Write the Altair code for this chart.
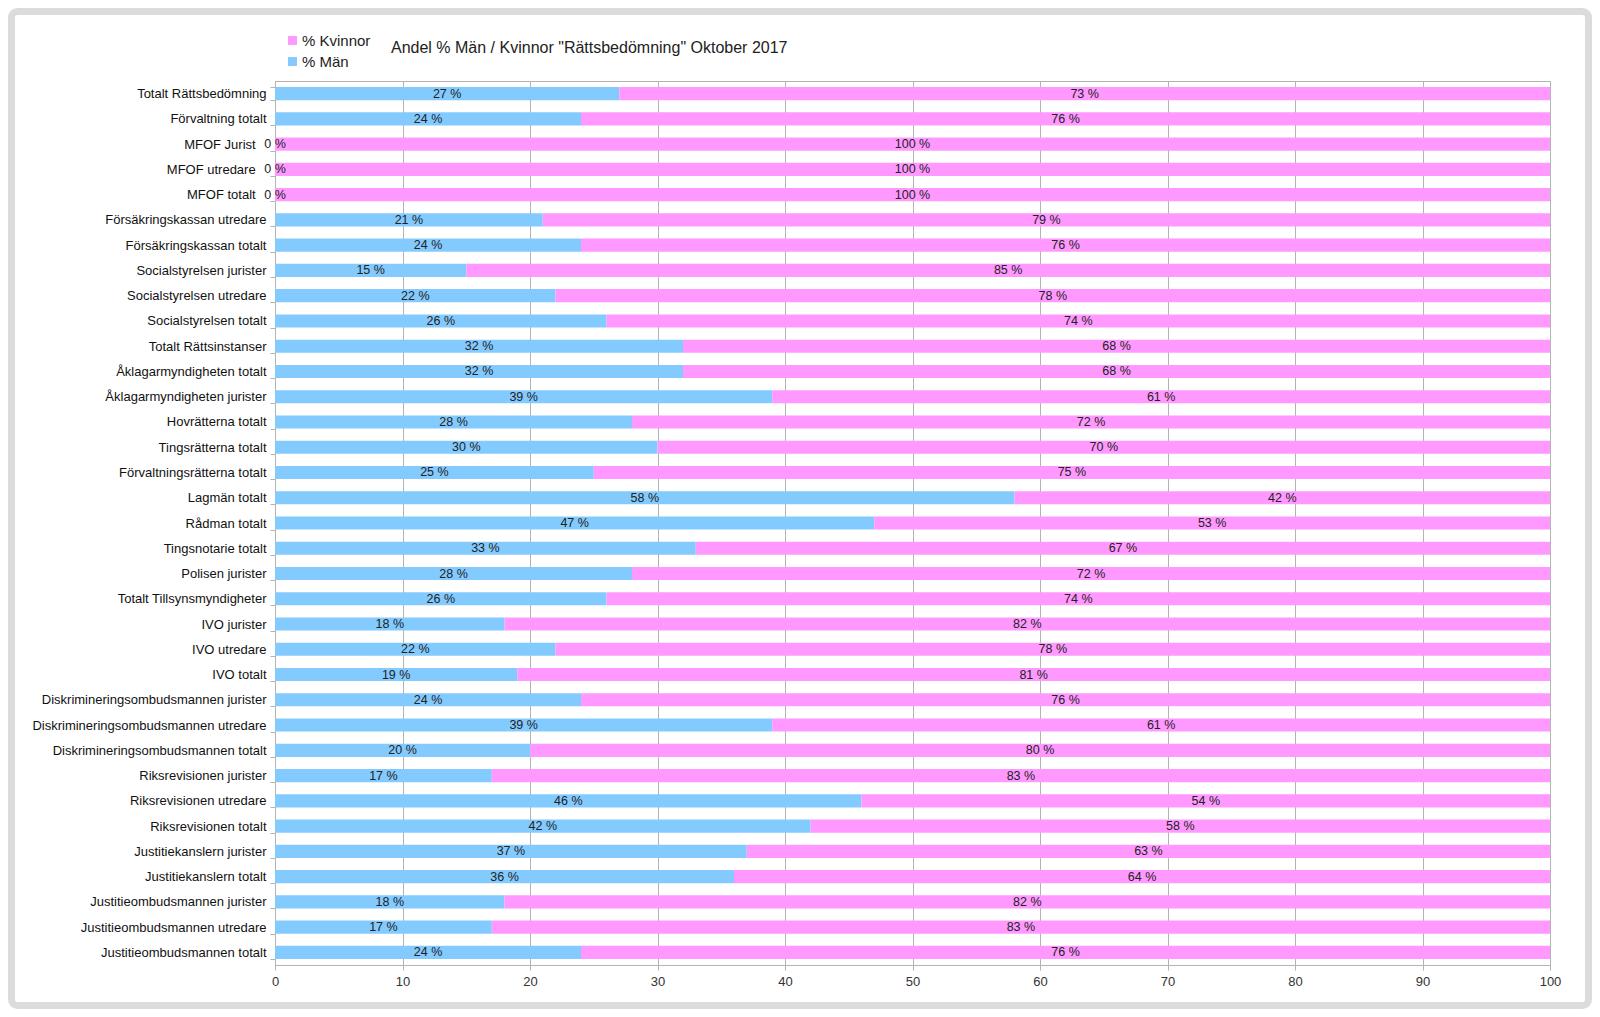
import altair as alt
import pandas as pd

categories = [
    "Totalt Rättsbedömning", "Förvaltning totalt", "MFOF Jurist", "MFOF utredare",
    "MFOF totalt", "Försäkringskassan utredare", "Försäkringskassan totalt",
    "Socialstyrelsen jurister", "Socialstyrelsen utredare", "Socialstyrelsen totalt",
    "Totalt Rättsinstanser", "Åklagarmyndigheten totalt", "Åklagarmyndigheten jurister",
    "Hovrätterna totalt", "Tingsrätterna totalt", "Förvaltningsrätterna totalt",
    "Lagmän totalt", "Rådman totalt", "Tingsnotarie totalt", "Polisen jurister",
    "Totalt Tillsynsmyndigheter", "IVO jurister", "IVO utredare", "IVO totalt",
    "Diskrimineringsombudsmannen jurister", "Diskrimineringsombudsmannen utredare",
    "Diskrimineringsombudsmannen totalt", "Riksrevisionen jurister",
    "Riksrevisionen utredare", "Riksrevisionen totalt", "Justitiekanslern jurister",
    "Justitiekanslern totalt", "Justitieombudsmannen jurister",
    "Justitieombudsmannen utredare", "Justitieombudsmannen totalt",
]
man = [27, 24, 0, 0, 0, 21, 24, 15, 22, 26, 32, 32, 39, 28, 30, 25, 58, 47, 33, 28,
       26, 18, 22, 19, 24, 39, 20, 17, 46, 42, 37, 36, 18, 17, 24]
kvinnor = [73, 76, 100, 100, 100, 79, 76, 85, 78, 74, 68, 68, 61, 72, 70, 75, 42, 53,
           67, 72, 74, 82, 78, 81, 76, 61, 80, 83, 54, 58, 63, 64, 82, 83, 76]
series = ["% Kvinnor", "% Män"]
colors = ["#ff99ff", "#83caff"]
title_text = 'Andel % Män / Kvinnor "Rättsbedömning" Oktober 2017'

rows = []
for c, m, k in zip(categories, man, kvinnor):
    rows.append({"cat": c, "serie": "% Män", "ord": 0, "value": m})
    rows.append({"cat": c, "serie": "% Kvinnor", "ord": 1, "value": k})
df = pd.DataFrame(rows)

FONT = "Liberation Sans"

base = alt.Chart(df).transform_stack(
    stack="value", groupby=["cat"], sort=[alt.SortField("ord")], as_=["x0", "x1"]
).transform_calculate(
    mid="(datum.x0 + datum.x1) / 2",
    lbl="datum.value + ' %'",
)

yaxis = alt.Axis(
    labelFont=FONT, labelFontSize=13, labelColor="#111", labelPadding=4,
    labelLimit=400, tickBand="extent", tickSize=5, tickColor="#b3b3b3",
    domainColor="#b3b3b3", grid=False,
    labelExpr="slice(datum.label, 0, 4) == 'MFOF' ? datum.label + '\u00a0\u00a0\u00a0\u200b' : datum.label",
)
yscale = alt.Scale(paddingInner=0.48, paddingOuter=0.24)
xaxis = alt.Axis(
    values=list(range(0, 101, 10)), labelFont=FONT, labelFontSize=13,
    labelColor="#333", labelPadding=5, tickSize=5, tickColor="#b3b3b3",
    domainColor="#b3b3b3", gridColor="#b3b3b3", grid=True, labelFlush=False,
)
xscale = alt.Scale(domain=[0, 100], nice=False)

bars = base.mark_bar().encode(
    x=alt.X("x0:Q", title=None, scale=xscale, axis=xaxis),
    x2="x1:Q",
    y=alt.Y("cat:N", sort=categories, title=None, scale=yscale, axis=yaxis),
    color=alt.Color(
        "serie:N", scale=alt.Scale(domain=series, range=colors),
        legend=alt.Legend(
            title=None, orient="none", legendX=10, legendY=-48, symbolType="square",
            symbolSize=80, symbolStrokeWidth=0, labelFont=FONT, labelFontSize=15,
            labelColor="#222", rowPadding=5, padding=0, labelOffset=2,
        ),
    ),
)

labels = base.mark_text(font=FONT, fontSize=12.5, color="#222", baseline="middle").encode(
    x=alt.X("mid:Q", title=None, scale=xscale, axis=xaxis),
    y=alt.Y("cat:N", sort=categories, title=None, scale=yscale, axis=yaxis),
    text="lbl:N",
)

frame = alt.Chart(pd.DataFrame({"k": [0]})).mark_rect(
    filled=False, stroke="#dcdcdc", strokeWidth=7, cornerRadius=6
).encode(
    x=alt.value(-263.5), x2=alt.value(1313.5), y=alt.value(-69.5), y2=alt.value(924.5)
)

chart = alt.layer(bars, labels, frame).properties(
    width=1275, height=884,
    autosize=alt.AutoSizeParams(type="none"),
    padding={"left": 267, "top": 73, "right": 42, "bottom": 44},
    title=alt.TitleParams(
        text=title_text, anchor="start", frame="group", dx=116, offset=0, dy=48,
        font=FONT, fontSize=16, fontWeight="normal", color="#222",
    ),
).configure_view(stroke="#b3b3b3")

chart.save("out.html", embed_options={"renderer": "svg", "actions": False})
